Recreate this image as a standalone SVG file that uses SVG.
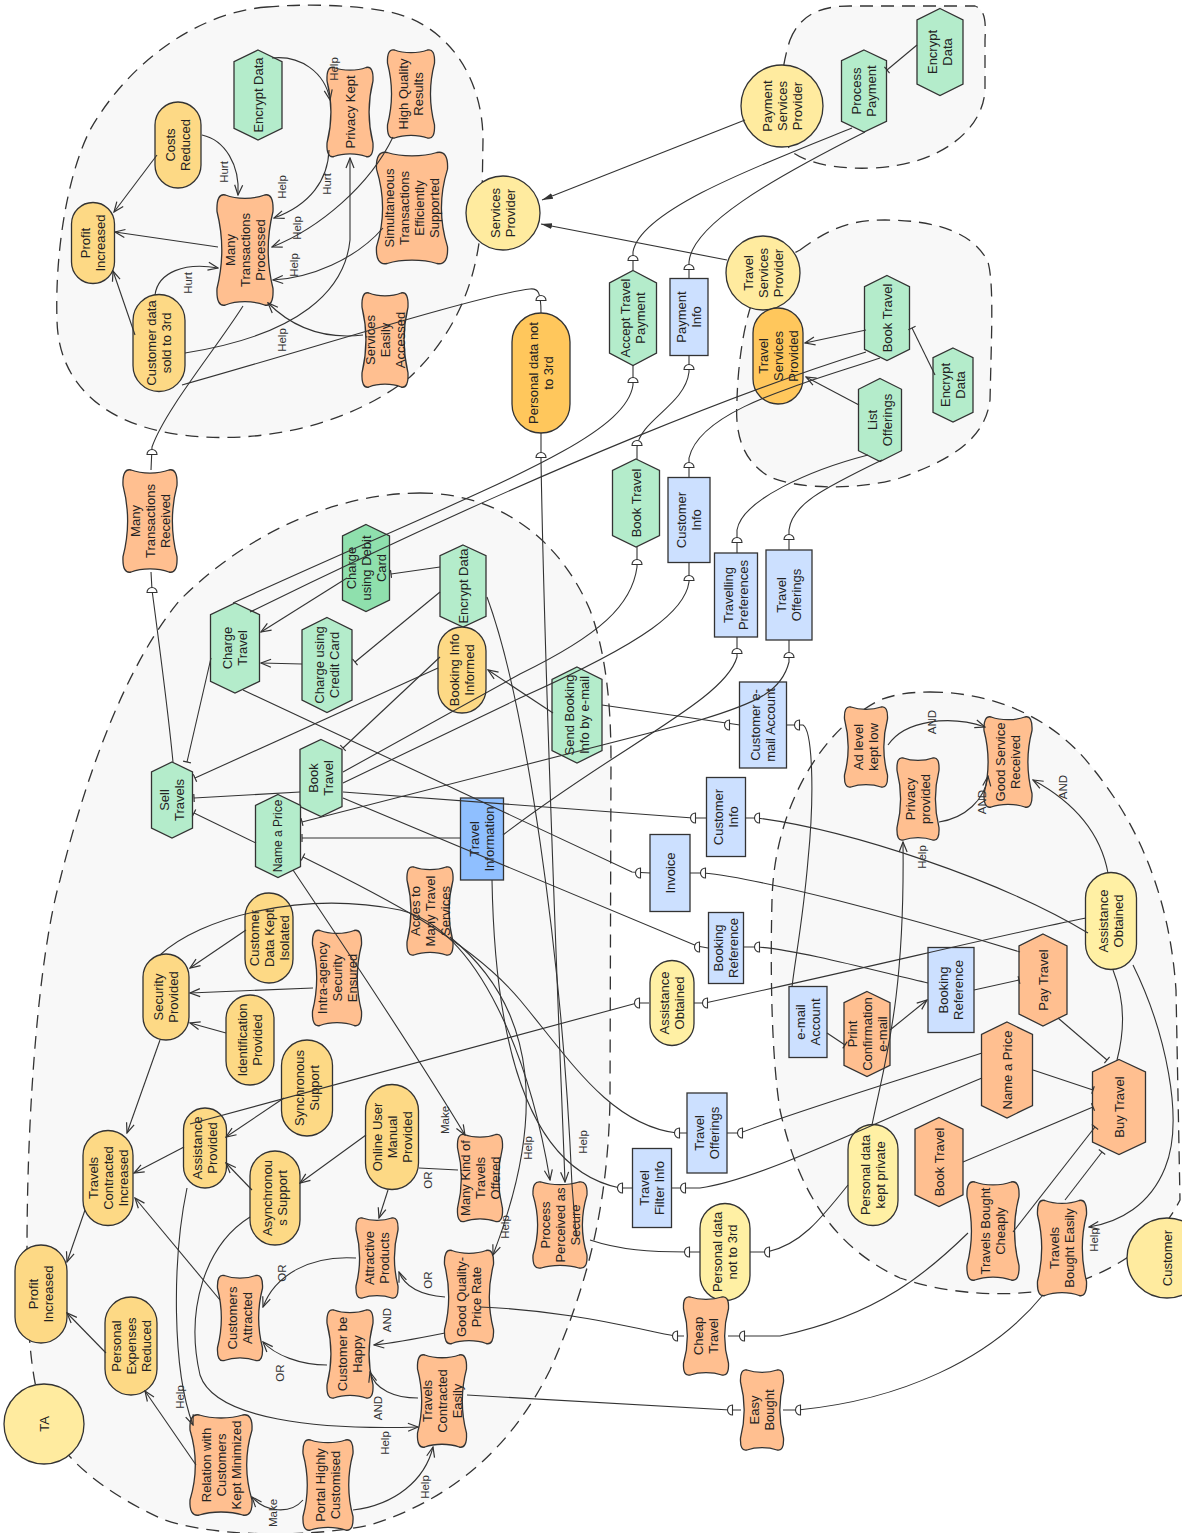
<svg xmlns="http://www.w3.org/2000/svg" xmlns:xlink="http://www.w3.org/1999/xlink" width="1182" height="1533" viewBox="0 0 1182 1533">
<style>
.b{fill:#f8f8f8;stroke:#333;stroke-width:1.3;stroke-dasharray:13 8}
.g,.gd,.gp,.s,.tg,.tgd,.to,.r,.rd,.a{stroke:#333;stroke-width:1.3}
.g{fill:#fdd985}.gd{fill:#ffc75c}.gp{fill:#fff0a4}.s{fill:#ffbf90}
.tg{fill:#b4eccb}.tgd{fill:#8fe0ad}.to{fill:#ffbf90}
.r{fill:#cce0ff}.rd{fill:#8fbfff}.a{fill:#ffeb9f}
.t{font-family:"Liberation Sans",Arial,sans-serif;font-size:13px;fill:#222;text-anchor:middle}
.c path{fill:none;stroke:#333;stroke-width:1.1}
.lb{font-family:"Liberation Sans",Arial,sans-serif;font-size:11.5px;fill:#333;text-anchor:middle}
</style>
<defs>
<polygon id="hex" points="0,-1 1,-0.74 1,0.74 0,1 -1,0.74 -1,-0.74" vector-effect="non-scaling-stroke"/>
<path id="soft" vector-effect="non-scaling-stroke" d="M-0.7,-1 C-0.3,-0.92 0.3,-0.92 0.7,-1 C0.92,-1.03 1.02,-0.92 1,-0.7 C0.78,-0.25 0.78,0.25 1,0.7 C1.02,0.92 0.92,1.03 0.7,1 C0.3,0.92 -0.3,0.92 -0.7,1 C-0.92,1.03 -1.02,0.92 -1,0.7 C-0.78,0.25 -0.78,-0.25 -1,-0.7 C-1.02,-0.92 -0.92,-1.03 -0.7,-1 Z"/>
<path id="dU" d="M-5,2.5 A5,5 0 0 1 5,2.5 Z" fill="#fff" stroke="#333" stroke-width="1.1"/>
<path id="dL" d="M2.5,-5 A5,5 0 0 0 2.5,5 Z" fill="#fff" stroke="#333" stroke-width="1.1"/>
<marker id="ar" viewBox="0 0 12 10" refX="11" refY="5" markerWidth="12" markerHeight="10" markerUnits="userSpaceOnUse" orient="auto"><path d="M1,1 L11,5 L1,9" fill="none" stroke="#333" stroke-width="1.2"/></marker>
<marker id="tk" viewBox="-2 -5 4 10" refX="-1" refY="0" markerWidth="4" markerHeight="10" markerUnits="userSpaceOnUse" orient="auto"><path d="M-1,-4 L-1,4" stroke="#333" stroke-width="1.2"/></marker>
<marker id="isa" viewBox="0 0 12 8" refX="11" refY="4" markerWidth="12" markerHeight="8" markerUnits="userSpaceOnUse" orient="auto"><path d="M0,1 L11,4 L0,7 Z" fill="#333"/></marker>
</defs>
<rect width="1182" height="1533" fill="#fff"/>
<g id="boundaries">
<path class="b" d="M267,7 C200,12 130,60 90,130 C65,180 55,260 57,320 C58,380 100,425 183,435 C260,445 350,425 410,377 C460,330 482,270 482,200 L483,140 C483,80 450,25 390,12 C350,4 300,4 267,7 Z"/>
<path class="b" d="M790,40 C800,15 820,6 850,6 L975,6 C985,10 986,20 985,40 L985,90 C983,130 940,165 873,168 C830,170 800,160 790,150 C775,120 780,70 790,40 Z"/>
<path class="b" d="M800,250 C830,228 850,220 885,220 C940,220 975,235 988,262 C993,280 992,320 991,360 L990,400 C985,440 950,460 900,478 C860,490 800,490 770,477 C740,460 735,430 737,400 C738,360 745,320 753,300 C760,280 775,262 800,250 Z"/>
<path class="b" d="M420,493 C500,493 560,540 590,610 C605,650 611,700 611,760 L610,1100 C608,1200 590,1280 550,1370 C510,1450 450,1500 370,1525 C300,1540 200,1535 160,1518 C110,1495 70,1465 50,1430 C30,1390 27,1330 27,1250 C27,1100 40,950 60,880 C90,760 130,660 180,600 C250,530 340,493 420,493 Z"/>
<path class="b" d="M930,692 C990,692 1050,715 1090,765 C1140,825 1170,900 1176,990 L1180,1200 C1160,1240 1120,1270 1060,1288 C1010,1298 950,1295 900,1278 C840,1250 800,1200 780,1110 C772,1060 770,980 772,900 C774,810 820,730 880,700 C895,694 912,692 930,692 Z"/>
</g>
<g id="nodes">
<g id="a_sp"><circle class="a" cx="503" cy="213" r="37"/><text class="t" transform="translate(503,213) rotate(-90)"><tspan x="0" y="-3">Services</tspan><tspan x="0" y="12">Provider</tspan></text></g>
<g id="a_psp"><circle class="a" cx="782" cy="106" r="41"/><text class="t" transform="translate(782,106) rotate(-90)"><tspan x="0" y="-10.5">Payment</tspan><tspan x="0" y="4.5">Services</tspan><tspan x="0" y="19.5">Provider</tspan></text></g>
<g id="a_tsp"><circle class="a" cx="763" cy="273" r="37"/><text class="t" transform="translate(763,273) rotate(-90)"><tspan x="0" y="-10.5">Travel</tspan><tspan x="0" y="4.5">Services</tspan><tspan x="0" y="19.5">Provider</tspan></text></g>
<g id="a_ta"><circle class="a" cx="44" cy="1424" r="40"/><text class="t" transform="translate(44,1424) rotate(-90)"><tspan x="0" y="4.5">TA</tspan></text></g>
<g id="a_cust"><circle class="a" cx="1167" cy="1258" r="40"/><text class="t" transform="translate(1167,1258) rotate(-90)"><tspan x="0" y="4.5">Customer</tspan></text></g>

<g id="n_encrypt1"><use href="#hex" class="tg" transform="translate(258,95) scale(24,45)"/><text class="t" transform="translate(258,95) rotate(-90)"><tspan x="0" y="4.5">Encrypt Data</tspan></text></g>
<g id="n_costs"><rect class="g" x="155" y="102" width="46" height="86" rx="23"/><text class="t" transform="translate(178,145) rotate(-90)"><tspan x="0" y="-3">Costs</tspan><tspan x="0" y="12">Reduced</tspan></text></g>
<g id="n_privacy_kept"><use href="#soft" class="s" transform="translate(350,112) scale(23,44.5)"/><text class="t" transform="translate(350,112) rotate(-90)"><tspan x="0" y="4.5">Privacy Kept</tspan></text></g>
<g id="n_hqr"><use href="#soft" class="s" transform="translate(411,94) scale(23.5,44)"/><text class="t" transform="translate(411,94) rotate(-90)"><tspan x="0" y="-3">High Quality</tspan><tspan x="0" y="12">Results</tspan></text></g>
<g id="n_profit1"><rect class="g" x="71.5" y="202.5" width="43" height="81" rx="21.5"/><text class="t" transform="translate(93,243) rotate(-90)"><tspan x="0" y="-3">Profit</tspan><tspan x="0" y="12">Increased</tspan></text></g>
<g id="n_mtp"><use href="#soft" class="s" transform="translate(245,250) scale(28,55)"/><text class="t" transform="translate(245,250) rotate(-90)"><tspan x="0" y="-10.5">Many</tspan><tspan x="0" y="4.5">Transactions</tspan><tspan x="0" y="19.5">Processed</tspan></text></g>
<g id="n_simul"><use href="#soft" class="s" transform="translate(412,208) scale(35.5,55.5)"/><text class="t" transform="translate(412,208) rotate(-90)"><tspan x="0" y="-18">Simultaneous</tspan><tspan x="0" y="-3">Transactions</tspan><tspan x="0" y="12">Efficiently</tspan><tspan x="0" y="27">Supported</tspan></text></g>
<g id="n_cdsold"><rect class="g" x="133" y="294.5" width="52" height="97" rx="26"/><text class="t" transform="translate(159,343) rotate(-90)"><tspan x="0" y="-3">Customer data</tspan><tspan x="0" y="12">sold to 3rd</tspan></text></g>
<g id="n_sea"><use href="#soft" class="s" transform="translate(385,340) scale(23,47)"/><text class="t" transform="translate(385,340) rotate(-90)"><tspan x="0" y="-10.5">Services</tspan><tspan x="0" y="4.5">Easily</tspan><tspan x="0" y="19.5">Accessed</tspan></text></g>
<g id="n_mtr"><use href="#soft" class="s" transform="translate(150,521) scale(27,51)"/><text class="t" transform="translate(150,521) rotate(-90)"><tspan x="0" y="-10.5">Many</tspan><tspan x="0" y="4.5">Transactions</tspan><tspan x="0" y="19.5">Received</tspan></text></g>

<g id="n_pdn3_top"><rect class="gd" x="512" y="313" width="58" height="120" rx="29"/><text class="t" transform="translate(541,373) rotate(-90)"><tspan x="0" y="-3">Personal data not</tspan><tspan x="0" y="12">to 3rd</tspan></text></g>
<g id="n_accept"><use href="#hex" class="tg" transform="translate(633,318) scale(23.5,47.5)"/><text class="t" transform="translate(633,318) rotate(-90)"><tspan x="0" y="-3">Accept Travel</tspan><tspan x="0" y="12">Payment</tspan></text></g>
<g id="n_payinfo"><rect class="r" x="670" y="278.5" width="38" height="77"/><text class="t" transform="translate(689,317) rotate(-90)"><tspan x="0" y="-3">Payment</tspan><tspan x="0" y="12">Info</tspan></text></g>
<g id="n_bookmid"><use href="#hex" class="tg" transform="translate(636,503) scale(23.5,44)"/><text class="t" transform="translate(636,503) rotate(-90)"><tspan x="0" y="4.5">Book Travel</tspan></text></g>
<g id="n_custinfo1"><rect class="r" x="668" y="477.5" width="42" height="85"/><text class="t" transform="translate(689,520) rotate(-90)"><tspan x="0" y="-3">Customer</tspan><tspan x="0" y="12">Info</tspan></text></g>
<g id="n_travpref"><rect class="r" x="714.5" y="553" width="43" height="84"/><text class="t" transform="translate(736,595) rotate(-90)"><tspan x="0" y="-3">Travelling</tspan><tspan x="0" y="12">Preferences</tspan></text></g>
<g id="n_travoff1"><rect class="r" x="766" y="550" width="46" height="90"/><text class="t" transform="translate(789,595) rotate(-90)"><tspan x="0" y="-3">Travel</tspan><tspan x="0" y="12">Offerings</tspan></text></g>
<g id="n_custemail"><rect class="r" x="739.5" y="682" width="47" height="86"/><text class="t" transform="translate(763,725) rotate(-90)"><tspan x="0" y="-3">Customer e-</tspan><tspan x="0" y="12">mail Account</tspan></text></g>
<g id="n_custinfo2"><rect class="r" x="706.5" y="777.5" width="39" height="79"/><text class="t" transform="translate(726,817) rotate(-90)"><tspan x="0" y="-3">Customer</tspan><tspan x="0" y="12">Info</tspan></text></g>
<g id="n_invoice"><rect class="r" x="650" y="834.5" width="40" height="77"/><text class="t" transform="translate(670,873) rotate(-90)"><tspan x="0" y="4.5">Invoice</tspan></text></g>
<g id="n_bookref1"><rect class="r" x="708.5" y="912.5" width="35" height="71"/><text class="t" transform="translate(726,948) rotate(-90)"><tspan x="0" y="-3">Booking</tspan><tspan x="0" y="12">Reference</tspan></text></g>
<g id="n_assist_mid"><rect class="gp" x="650" y="960.5" width="44" height="85" rx="22"/><text class="t" transform="translate(672,1003) rotate(-90)"><tspan x="0" y="-3">Assistance</tspan><tspan x="0" y="12">Obtained</tspan></text></g>
<g id="n_travoff2"><rect class="r" x="687" y="1093" width="40" height="80"/><text class="t" transform="translate(707,1133) rotate(-90)"><tspan x="0" y="-3">Travel</tspan><tspan x="0" y="12">Offerings</tspan></text></g>
<g id="n_filter"><rect class="r" x="632.5" y="1148.5" width="39" height="79"/><text class="t" transform="translate(652,1188) rotate(-90)"><tspan x="0" y="-3">Travel</tspan><tspan x="0" y="12">Filter Info</tspan></text></g>
<g id="n_pdn3_low"><rect class="gp" x="700" y="1203.5" width="50" height="97" rx="25"/><text class="t" transform="translate(725,1252) rotate(-90)"><tspan x="0" y="-3">Personal data</tspan><tspan x="0" y="12">not to 3rd</tspan></text></g>
<g id="n_cheap"><use href="#soft" class="s" transform="translate(706,1336) scale(22.5,39)"/><text class="t" transform="translate(706,1336) rotate(-90)"><tspan x="0" y="-3">Cheap</tspan><tspan x="0" y="12">Travel</tspan></text></g>
<g id="n_easy"><use href="#soft" class="s" transform="translate(762,1410) scale(21.5,40)"/><text class="t" transform="translate(762,1410) rotate(-90)"><tspan x="0" y="-3">Easy</tspan><tspan x="0" y="12">Bought</tspan></text></g>

<g id="n_procpay"><use href="#hex" class="tg" transform="translate(864,91) scale(22.5,41)"/><text class="t" transform="translate(864,91) rotate(-90)"><tspan x="0" y="-3">Process</tspan><tspan x="0" y="12">Payment</tspan></text></g>
<g id="n_encrypt2"><use href="#hex" class="tg" transform="translate(940,52) scale(23,43.5)"/><text class="t" transform="translate(940,52) rotate(-90)"><tspan x="0" y="-3">Encrypt</tspan><tspan x="0" y="12">Data</tspan></text></g>
<g id="n_tsprov"><rect class="gd" x="753" y="308" width="50" height="96" rx="25"/><text class="t" transform="translate(778,356) rotate(-90)"><tspan x="0" y="-10.5">Travel</tspan><tspan x="0" y="4.5">Services</tspan><tspan x="0" y="19.5">Provided</tspan></text></g>
<g id="n_booktsp"><use href="#hex" class="tg" transform="translate(887,318) scale(22.5,42.5)"/><text class="t" transform="translate(887,318) rotate(-90)"><tspan x="0" y="4.5">Book Travel</tspan></text></g>
<g id="n_encrypt3"><use href="#hex" class="tg" transform="translate(953,385) scale(20,37)"/><text class="t" transform="translate(953,385) rotate(-90)"><tspan x="0" y="-3">Encrypt</tspan><tspan x="0" y="12">Data</tspan></text></g>
<g id="n_listoff"><use href="#hex" class="tg" transform="translate(880,420) scale(21.5,41.5)"/><text class="t" transform="translate(880,420) rotate(-90)"><tspan x="0" y="-3">List</tspan><tspan x="0" y="12">Offerings</tspan></text></g>

<g id="n_debit"><use href="#hex" class="tgd" transform="translate(366,568) scale(23.5,43.5)"/><text class="t" transform="translate(366,568) rotate(-90)"><tspan x="0" y="-10.5">Charge</tspan><tspan x="0" y="4.5">using Debit</tspan><tspan x="0" y="19.5">Card</tspan></text></g>
<g id="n_charge"><use href="#hex" class="tg" transform="translate(235,648) scale(24.5,45)"/><text class="t" transform="translate(235,648) rotate(-90)"><tspan x="0" y="-3">Charge</tspan><tspan x="0" y="12">Travel</tspan></text></g>
<g id="n_credit"><use href="#hex" class="tg" transform="translate(327,665) scale(25,47.5)"/><text class="t" transform="translate(327,665) rotate(-90)"><tspan x="0" y="-3">Charge using</tspan><tspan x="0" y="12">Credit Card</tspan></text></g>
<g id="n_encrypt4"><use href="#hex" class="tg" transform="translate(463,586) scale(23,41)"/><text class="t" transform="translate(463,586) rotate(-90)"><tspan x="0" y="4.5">Encrypt Data</tspan></text></g>
<g id="n_bookinfo"><rect class="g" x="438" y="627" width="48" height="86" rx="24"/><text class="t" transform="translate(462,670) rotate(-90)"><tspan x="0" y="-3">Booking Info</tspan><tspan x="0" y="12">Informed</tspan></text></g>
<g id="n_sendbook"><use href="#hex" class="tg" transform="translate(577,715) scale(25,48)"/><text class="t" transform="translate(577,715) rotate(-90)"><tspan x="0" y="-3">Send Booking</tspan><tspan x="0" y="12">Info by e-mail</tspan></text></g>
<g id="n_sell"><use href="#hex" class="tg" transform="translate(172,800) scale(20.5,38)"/><text class="t" transform="translate(172,800) rotate(-90)"><tspan x="0" y="-3">Sell</tspan><tspan x="0" y="12">Travels</tspan></text></g>
<g id="n_bookta"><use href="#hex" class="tg" transform="translate(321,778) scale(21,38.5)"/><text class="t" transform="translate(321,778) rotate(-90)"><tspan x="0" y="-3">Book</tspan><tspan x="0" y="12">Travel</tspan></text></g>
<g id="n_nameta"><use href="#hex" class="tg" transform="translate(278,836) scale(22.5,41.5)"/><text class="t" style="font-size:12px" transform="translate(278,836) rotate(-90)"><tspan x="0" y="4">Name a Price</tspan></text></g>
<g id="n_travinfo"><rect class="rd" x="460.5" y="798" width="43" height="82"/><text class="t" transform="translate(482,839) rotate(-90)"><tspan x="0" y="-3">Travel</tspan><tspan x="0" y="12">Information</tspan></text></g>
<g id="n_access"><use href="#soft" class="s" transform="translate(430,911) scale(23,44)"/><text class="t" transform="translate(430,911) rotate(-90)"><tspan x="0" y="-10.5">Acces to</tspan><tspan x="0" y="4.5">Many Travel</tspan><tspan x="0" y="19.5">Services</tspan></text></g>
<g id="n_cdki"><rect class="g" x="245" y="893" width="48" height="90" rx="24"/><text class="t" transform="translate(269,938) rotate(-90)"><tspan x="0" y="-10.5">Customer</tspan><tspan x="0" y="4.5">Data Kept</tspan><tspan x="0" y="19.5">Isolated</tspan></text></g>
<g id="n_intra"><use href="#soft" class="s" transform="translate(337,978) scale(24.5,47.5)"/><text class="t" transform="translate(337,978) rotate(-90)"><tspan x="0" y="-10.5">Intra-agency</tspan><tspan x="0" y="4.5">Security</tspan><tspan x="0" y="19.5">Ensured</tspan></text></g>
<g id="n_secprov"><rect class="g" x="143" y="954" width="46" height="86" rx="23"/><text class="t" transform="translate(166,997) rotate(-90)"><tspan x="0" y="-3">Security</tspan><tspan x="0" y="12">Provided</tspan></text></g>
<g id="n_ident"><rect class="g" x="226" y="995" width="48" height="90" rx="24"/><text class="t" transform="translate(250,1040) rotate(-90)"><tspan x="0" y="-3">Identification</tspan><tspan x="0" y="12">Provided</tspan></text></g>
<g id="n_sync"><rect class="g" x="281.5" y="1040" width="51" height="96" rx="25.5"/><text class="t" transform="translate(307,1088) rotate(-90)"><tspan x="0" y="-3">Synchronous</tspan><tspan x="0" y="12">Support</tspan></text></g>
<g id="n_assistprov"><rect class="g" x="183.5" y="1108" width="43" height="80" rx="21.5"/><text class="t" transform="translate(205,1148) rotate(-90)"><tspan x="0" y="-3">Assistance</tspan><tspan x="0" y="12">Provided</tspan></text></g>
<g id="n_online"><rect class="g" x="365.5" y="1084.5" width="53" height="105" rx="26.5"/><text class="t" transform="translate(392,1137) rotate(-90)"><tspan x="0" y="-10.5">Online User</tspan><tspan x="0" y="4.5">Manual</tspan><tspan x="0" y="19.5">Provided</tspan></text></g>
<g id="n_tci"><rect class="g" x="83" y="1130.5" width="50" height="95" rx="25"/><text class="t" transform="translate(108,1178) rotate(-90)"><tspan x="0" y="-10.5">Travels</tspan><tspan x="0" y="4.5">Contracted</tspan><tspan x="0" y="19.5">Increased</tspan></text></g>
<g id="n_async"><rect class="g" x="250" y="1151" width="50" height="94" rx="25"/><text class="t" transform="translate(275,1198) rotate(-90)"><tspan x="0" y="-3">Asynchronou</tspan><tspan x="0" y="12">s Support</tspan></text></g>
<g id="n_manykind"><use href="#soft" class="s" transform="translate(480,1178) scale(22.5,43.5)"/><text class="t" transform="translate(480,1178) rotate(-90)"><tspan x="0" y="-10.5">Many Kind of</tspan><tspan x="0" y="4.5">Travels</tspan><tspan x="0" y="19.5">Offered</tspan></text></g>
<g id="n_pps"><use href="#soft" class="s" transform="translate(560,1225) scale(27,43)"/><text class="t" transform="translate(560,1225) rotate(-90)"><tspan x="0" y="-10.5">Process</tspan><tspan x="0" y="4.5">Perceived as</tspan><tspan x="0" y="19.5">Secure</tspan></text></g>
<g id="n_profit2"><rect class="g" x="15" y="1245" width="52" height="98" rx="26"/><text class="t" transform="translate(41,1294) rotate(-90)"><tspan x="0" y="-3">Profit</tspan><tspan x="0" y="12">Increased</tspan></text></g>
<g id="n_attract"><use href="#soft" class="s" transform="translate(377,1258) scale(21,40)"/><text class="t" transform="translate(377,1258) rotate(-90)"><tspan x="0" y="-3">Attractive</tspan><tspan x="0" y="12">Products</tspan></text></g>
<g id="n_gqp"><use href="#soft" class="s" transform="translate(469,1297) scale(24.5,46.5)"/><text class="t" transform="translate(469,1297) rotate(-90)"><tspan x="0" y="-3">Good Quality-</tspan><tspan x="0" y="12">Price Rate</tspan></text></g>
<g id="n_custattr"><use href="#soft" class="s" transform="translate(240,1318) scale(22.5,42.5)"/><text class="t" transform="translate(240,1318) rotate(-90)"><tspan x="0" y="-3">Customers</tspan><tspan x="0" y="12">Attracted</tspan></text></g>
<g id="n_per"><rect class="g" x="105" y="1297" width="52" height="98" rx="26"/><text class="t" transform="translate(131,1346) rotate(-90)"><tspan x="0" y="-10.5">Personal</tspan><tspan x="0" y="4.5">Expenses</tspan><tspan x="0" y="19.5">Reduced</tspan></text></g>
<g id="n_happy"><use href="#soft" class="s" transform="translate(350,1354) scale(23,44)"/><text class="t" transform="translate(350,1354) rotate(-90)"><tspan x="0" y="-3">Customer be</tspan><tspan x="0" y="12">Happy</tspan></text></g>
<g id="n_tce"><use href="#soft" class="s" transform="translate(442,1401) scale(24.5,46)"/><text class="t" transform="translate(442,1401) rotate(-90)"><tspan x="0" y="-10.5">Travels</tspan><tspan x="0" y="4.5">Contracted</tspan><tspan x="0" y="19.5">Easily</tspan></text></g>
<g id="n_relation"><use href="#soft" class="s" transform="translate(221,1465) scale(31,50)"/><text class="t" transform="translate(221,1465) rotate(-90)"><tspan x="0" y="-10.5">Relation with</tspan><tspan x="0" y="4.5">Customers</tspan><tspan x="0" y="19.5">Kept Minimized</tspan></text></g>
<g id="n_portal"><use href="#soft" class="s" transform="translate(328,1485) scale(25,45)"/><text class="t" transform="translate(328,1485) rotate(-90)"><tspan x="0" y="-3">Portal Highly</tspan><tspan x="0" y="12">Customised</tspan></text></g>

<g id="n_adlevel"><use href="#soft" class="s" transform="translate(866,747) scale(21.5,40)"/><text class="t" transform="translate(866,747) rotate(-90)"><tspan x="0" y="-3">Ad level</tspan><tspan x="0" y="12">kept low</tspan></text></g>
<g id="n_privprov"><use href="#soft" class="s" transform="translate(918,799) scale(21,41)"/><text class="t" transform="translate(918,799) rotate(-90)"><tspan x="0" y="-3">Privacy</tspan><tspan x="0" y="12">provided</tspan></text></g>
<g id="n_goodserv"><use href="#soft" class="s" transform="translate(1008,762) scale(24,45)"/><text class="t" transform="translate(1008,762) rotate(-90)"><tspan x="0" y="-3">Good Service</tspan><tspan x="0" y="12">Received</tspan></text></g>
<g id="n_assist_c"><rect class="gp" x="1085.5" y="872.5" width="51" height="97" rx="25.5"/><text class="t" transform="translate(1111,921) rotate(-90)"><tspan x="0" y="-3">Assistance</tspan><tspan x="0" y="12">Obtained</tspan></text></g>
<g id="n_bookref2"><rect class="r" x="928" y="947.5" width="46" height="85"/><text class="t" transform="translate(951,990) rotate(-90)"><tspan x="0" y="-3">Booking</tspan><tspan x="0" y="12">Reference</tspan></text></g>
<g id="n_paytravel"><use href="#hex" class="to" transform="translate(1043,980) scale(24,46)"/><text class="t" transform="translate(1043,980) rotate(-90)"><tspan x="0" y="4.5">Pay Travel</tspan></text></g>
<g id="n_emailacc"><rect class="r" x="789" y="986.5" width="38" height="71"/><text class="t" transform="translate(808,1022) rotate(-90)"><tspan x="0" y="-3">e-mail</tspan><tspan x="0" y="12">Account</tspan></text></g>
<g id="n_print"><use href="#hex" class="to" transform="translate(867,1034) scale(23,42.5)"/><text class="t" transform="translate(867,1034) rotate(-90)"><tspan x="0" y="-10.5">Print</tspan><tspan x="0" y="4.5">Confirmation</tspan><tspan x="0" y="19.5">e-mail</tspan></text></g>
<g id="n_namec"><use href="#hex" class="to" transform="translate(1007,1070) scale(25.5,48)"/><text class="t" transform="translate(1007,1070) rotate(-90)"><tspan x="0" y="4.5">Name a Price</tspan></text></g>
<g id="n_buy"><use href="#hex" class="to" transform="translate(1119,1107) scale(26.5,47.5)"/><text class="t" transform="translate(1119,1107) rotate(-90)"><tspan x="0" y="4.5">Buy Travel</tspan></text></g>
<g id="n_pdkp"><rect class="gp" x="848" y="1124.5" width="50" height="101" rx="25"/><text class="t" transform="translate(873,1175) rotate(-90)"><tspan x="0" y="-3">Personal data</tspan><tspan x="0" y="12">kept private</tspan></text></g>
<g id="n_bookc"><use href="#hex" class="to" transform="translate(939,1162) scale(24,44.5)"/><text class="t" transform="translate(939,1162) rotate(-90)"><tspan x="0" y="4.5">Book Travel</tspan></text></g>
<g id="n_cheaply"><use href="#soft" class="s" transform="translate(993,1231) scale(26,49)"/><text class="t" transform="translate(993,1231) rotate(-90)"><tspan x="0" y="-3">Travels Bought</tspan><tspan x="0" y="12">Cheaply</tspan></text></g>
<g id="n_easily"><use href="#soft" class="s" transform="translate(1062,1248) scale(24.5,47.5)"/><text class="t" transform="translate(1062,1248) rotate(-90)"><tspan x="0" y="-3">Travels</tspan><tspan x="0" y="12">Bought Easily</tspan></text></g>
</g>
<g id="connectors" class="c">
<path marker-end="url(#ar)" d="M157,155 L114,212"/>
<path marker-end="url(#ar)" d="M202,135 C225,140 240,165 238,195"/>
<path marker-end="url(#ar)" d="M218,247 L115,232"/>
<path marker-end="url(#ar)" d="M135,335 L113,271"/>
<path marker-end="url(#ar)" d="M155,295 C158,272 185,262 218,268"/>
<path marker-end="url(#ar)" d="M272,58 C300,55 325,72 330,100"/>
<path marker-end="url(#ar)" d="M329,150 C328,180 310,205 274,218"/>
<path marker-end="url(#ar)" d="M185,353 C300,335 345,290 350,240 L350,158"/>
<path marker-end="url(#ar)" d="M393,137 C370,185 320,228 272,247"/>
<path marker-end="url(#ar)" d="M383,228 C355,260 310,278 273,280"/>
<path marker-end="url(#ar)" d="M363,335 C320,340 290,325 268,303"/>
<path d="M243,306 C215,350 165,410 152,447 L151,470"/>
<path d="M151,572 L152,590 C160,650 168,710 173,762"/>
<path d="M182,385 C300,352 480,295 530,289 C538,288 541,292 541,313"/>
<path marker-end="url(#ar)" d="M541,433 L541,460 C545,700 558,1000 565,1182"/>
<path marker-end="url(#isa)" d="M745,120 L542,200"/>
<path marker-end="url(#isa)" d="M727,260 L541,224"/>
<path marker-end="url(#tk)" d="M917,45 L887,70"/>
<path d="M852,128 C760,165 640,210 633,252 L633,270"/>
<path d="M865,132 C770,180 692,225 689,262 L689,278"/>
<path d="M633,365 L633,385 C625,440 480,490 233,603"/>
<path d="M689,355 L689,372 C685,405 640,420 637,447 L637,459"/>
<path d="M866,352 C760,385 560,460 250,612"/>
<path d="M880,358 C800,385 700,410 689,458 L689,478"/>
<path d="M637,547 L637,567 C632,605 600,635 520,674 L343,772"/>
<path d="M689,563 L689,582 C685,610 650,640 520,698 L343,783"/>
<path marker-end="url(#ar)" d="M866,330 L805,343"/>
<path marker-end="url(#ar)" d="M859,405 L806,377"/>
<path marker-end="url(#tk)" d="M935,375 L912,328"/>
<path d="M868,455 C810,470 742,500 737,530 L737,553"/>
<path d="M882,460 C820,490 792,505 789,530 L789,550"/>
<path d="M737,637 L737,657 C725,700 620,745 503,835"/>
<path marker-end="url(#tk)" d="M789,640 L789,662 C782,690 760,702 700,720 L302,822"/>
<path d="M602,705 L740,725"/>
<path marker-end="url(#ar)" d="M553,713 L488,670"/>
<path d="M787,725 L803,725 C812,730 815,790 808,860 C803,920 795,960 792,987"/>
<path marker-end="url(#tk)" d="M827,1033 L845,1045"/>
<path marker-end="url(#ar)" d="M890,1030 L927,1000"/>
<path marker-end="url(#tk)" d="M974,990 L1019,980"/>
<path d="M928,983 C880,972 800,950 757,947 L743,947"/>
<path d="M243,690 L632,872 L650,873"/>
<path d="M1020,952 C900,915 760,878 703,873 L690,873"/>
<path d="M343,798 L697,946 L708,948"/>
<path d="M343,792 L693,818 L706,818"/>
<path d="M745,818 L757,818 C850,830 1000,880 1088,933"/>
<path d="M649,1003 L637,1003 L190,1124"/>
<path d="M1086,918 C1000,935 880,965 705,1003 L694,1003"/>
<path marker-end="url(#tk)" d="M460,838 L302,838"/>
<path d="M492,880 C495,1050 530,1170 620,1188 L633,1188"/>
<path marker-end="url(#tk)" d="M687,1133 L677,1133 C610,1125 570,1060 520,1000 C470,940 380,895 303,857"/>
<path d="M982,1053 C900,1080 800,1110 740,1133 L727,1133"/>
<path d="M982,1078 C880,1120 760,1180 700,1188 L672,1188"/>
<path d="M590,1240 C620,1250 650,1252 687,1252 L700,1252"/>
<path d="M848,1185 C820,1220 800,1245 767,1252 L750,1252"/>
<path d="M480,1307 C560,1310 620,1325 675,1336 L684,1336"/>
<path d="M968,1233 C930,1270 880,1315 780,1336 L728,1336"/>
<path d="M467,1395 L730,1410 L741,1410"/>
<path d="M1043,1295 C990,1360 900,1400 798,1410 L783,1410"/>
<path marker-end="url(#ar)" d="M872,1125 C885,1060 905,1000 903,842"/>
<path marker-end="url(#ar)" d="M888,745 C905,720 950,715 985,727"/>
<path marker-end="url(#ar)" d="M939,822 C965,818 985,800 988,776"/>
<path marker-end="url(#ar)" d="M1108,873 C1100,830 1070,800 1033,780"/>
<path marker-end="url(#tk)" d="M1058,1018 L1107,1060"/>
<path marker-end="url(#tk)" d="M1033,1070 L1093,1090"/>
<path marker-end="url(#tk)" d="M963,1162 L1093,1107"/>
<path marker-end="url(#tk)" d="M1013,1232 L1095,1127"/>
<path marker-end="url(#tk)" d="M1065,1200 L1102,1152"/>
<path d="M1113,970 C1125,1000 1125,1030 1117,1060"/>
<path marker-end="url(#ar)" d="M1133,965 C1165,1030 1185,1120 1165,1168 C1150,1205 1120,1222 1089,1227"/>
<path marker-end="url(#ar)" d="M160,1040 L127,1133"/>
<path marker-end="url(#ar)" d="M246,930 L190,968"/>
<path marker-end="url(#ar)" d="M313,988 L190,993"/>
<path marker-end="url(#ar)" d="M226,1033 L190,1023"/>
<path marker-end="url(#ar)" d="M284,1098 L226,1137"/>
<path marker-end="url(#ar)" d="M252,1190 L226,1163"/>
<path marker-end="url(#ar)" d="M366,1135 L300,1183"/>
<path marker-end="url(#ar)" d="M388,1190 L379,1218"/>
<path d="M458,1170 L419,1168"/>
<path marker-end="url(#ar)" d="M184,1147 L134,1173"/>
<path marker-end="url(#ar)" d="M85,1210 L67,1262"/>
<path marker-end="url(#ar)" d="M220,1300 L135,1198"/>
<path marker-end="url(#ar)" d="M106,1353 L67,1313"/>
<path marker-end="url(#ar)" d="M196,1465 L145,1391"/>
<path marker-end="url(#ar)" d="M187,1188 C172,1260 172,1370 193,1425"/>
<path marker-end="url(#ar)" d="M356,1258 C310,1255 275,1275 263,1307"/>
<path marker-end="url(#ar)" d="M327,1365 C300,1365 275,1355 263,1342"/>
<path marker-end="url(#ar)" d="M445,1333 C420,1338 395,1343 374,1345"/>
<path marker-end="url(#ar)" d="M418,1398 C395,1398 375,1390 370,1372"/>
<path marker-end="url(#ar)" d="M303,1500 C290,1515 265,1512 252,1497"/>
<path marker-end="url(#ar)" d="M353,1510 C395,1505 425,1480 433,1447"/>
<path marker-end="url(#ar)" d="M250,1217 C205,1245 185,1310 200,1375 C215,1420 320,1430 418,1427"/>
<path marker-end="url(#ar)" d="M445,1297 C420,1295 405,1287 399,1272"/>
<path marker-end="url(#ar)" d="M293,870 C340,940 420,1060 465,1135"/>
<path marker-end="url(#ar)" d="M450,937 C540,1010 545,1120 493,1255"/>
<path marker-end="url(#ar)" d="M160,955 C200,918 300,890 400,910 C480,930 530,1060 550,1180"/>
<path d="M487,597 C525,700 562,950 572,1185 L576,1235"/>
<path marker-end="url(#ar)" d="M347,578 L261,632"/>
<path marker-end="url(#ar)" d="M302,664 L261,663"/>
<path marker-end="url(#tk)" d="M440,567 L391,574"/>
<path marker-end="url(#tk)" d="M440,592 L355,662"/>
<path marker-end="url(#tk)" d="M440,657 L343,748"/>
<path marker-end="url(#tk)" d="M438,668 L195,778"/>
<path marker-end="url(#tk)" d="M300,792 L194,798"/>
<path marker-end="url(#tk)" d="M256,843 L194,813"/>
<path marker-end="url(#tk)" d="M211,658 L187,762"/>
<use href="#dU" x="152" y="452"/>
<use href="#dU" x="152" y="590"/>
<use href="#dU" x="541" y="298"/>
<use href="#dU" x="541" y="455"/>
<use href="#dU" x="633" y="258"/>
<use href="#dU" x="633" y="380"/>
<use href="#dU" x="689" y="267"/>
<use href="#dU" x="689" y="367"/>
<use href="#dU" x="637" y="443"/>
<use href="#dU" x="637" y="562"/>
<use href="#dU" x="689" y="465"/>
<use href="#dU" x="689" y="578"/>
<use href="#dU" x="737" y="540"/>
<use href="#dU" x="737" y="651"/>
<use href="#dU" x="789" y="537"/>
<use href="#dU" x="789" y="655"/>
<use href="#dL" x="727" y="725"/>
<use href="#dL" x="797" y="725"/>
<use href="#dL" x="693" y="818"/>
<use href="#dL" x="757" y="818"/>
<use href="#dL" x="638" y="873"/>
<use href="#dL" x="703" y="873"/>
<use href="#dL" x="697" y="947"/>
<use href="#dL" x="757" y="947"/>
<use href="#dL" x="637" y="1003"/>
<use href="#dL" x="705" y="1003"/>
<use href="#dL" x="677" y="1133"/>
<use href="#dL" x="740" y="1133"/>
<use href="#dL" x="620" y="1188"/>
<use href="#dL" x="683" y="1188"/>
<use href="#dL" x="687" y="1252"/>
<use href="#dL" x="767" y="1252"/>
<use href="#dL" x="675" y="1336"/>
<use href="#dL" x="742" y="1336"/>
<use href="#dL" x="730" y="1410"/>
<use href="#dL" x="798" y="1410"/>
<text class="lb" transform="translate(224,172) rotate(-90)" y="4">Hurt</text>
<text class="lb" transform="translate(188,283) rotate(-90)" y="4">Hurt</text>
<text class="lb" transform="translate(334,69) rotate(-90)" y="4">Help</text>
<text class="lb" transform="translate(282,187) rotate(-90)" y="4">Help</text>
<text class="lb" transform="translate(327,184) rotate(-90)" y="4">Hurt</text>
<text class="lb" transform="translate(297,228) rotate(-90)" y="4">Help</text>
<text class="lb" transform="translate(294,265) rotate(-90)" y="4">Help</text>
<text class="lb" transform="translate(282,340) rotate(-90)" y="4">Help</text>
<text class="lb" transform="translate(922,857) rotate(-90)" y="4">Help</text>
<text class="lb" transform="translate(932,722) rotate(-90)" y="4">AND</text>
<text class="lb" transform="translate(982,802) rotate(-90)" y="4">AND</text>
<text class="lb" transform="translate(1063,787) rotate(-90)" y="4">AND</text>
<text class="lb" transform="translate(1094,1240) rotate(-90)" y="4">Help</text>
<text class="lb" transform="translate(180,1397) rotate(-90)" y="4">Help</text>
<text class="lb" transform="translate(282,1273) rotate(-90)" y="4">OR</text>
<text class="lb" transform="translate(280,1373) rotate(-90)" y="4">OR</text>
<text class="lb" transform="translate(387,1320) rotate(-90)" y="4">AND</text>
<text class="lb" transform="translate(378,1408) rotate(-90)" y="4">AND</text>
<text class="lb" transform="translate(273,1513) rotate(-90)" y="4">Make</text>
<text class="lb" transform="translate(425,1487) rotate(-90)" y="4">Help</text>
<text class="lb" transform="translate(385,1443) rotate(-90)" y="4">Help</text>
<text class="lb" transform="translate(428,1180) rotate(-90)" y="4">OR</text>
<text class="lb" transform="translate(428,1280) rotate(-90)" y="4">OR</text>
<text class="lb" transform="translate(445,1120) rotate(-90)" y="4">Make</text>
<text class="lb" transform="translate(505,1227) rotate(-90)" y="4">Help</text>
<text class="lb" transform="translate(528,1148) rotate(-90)" y="4">Help</text>
<text class="lb" transform="translate(583,1142) rotate(-90)" y="4">Help</text>
</g>
</svg>
